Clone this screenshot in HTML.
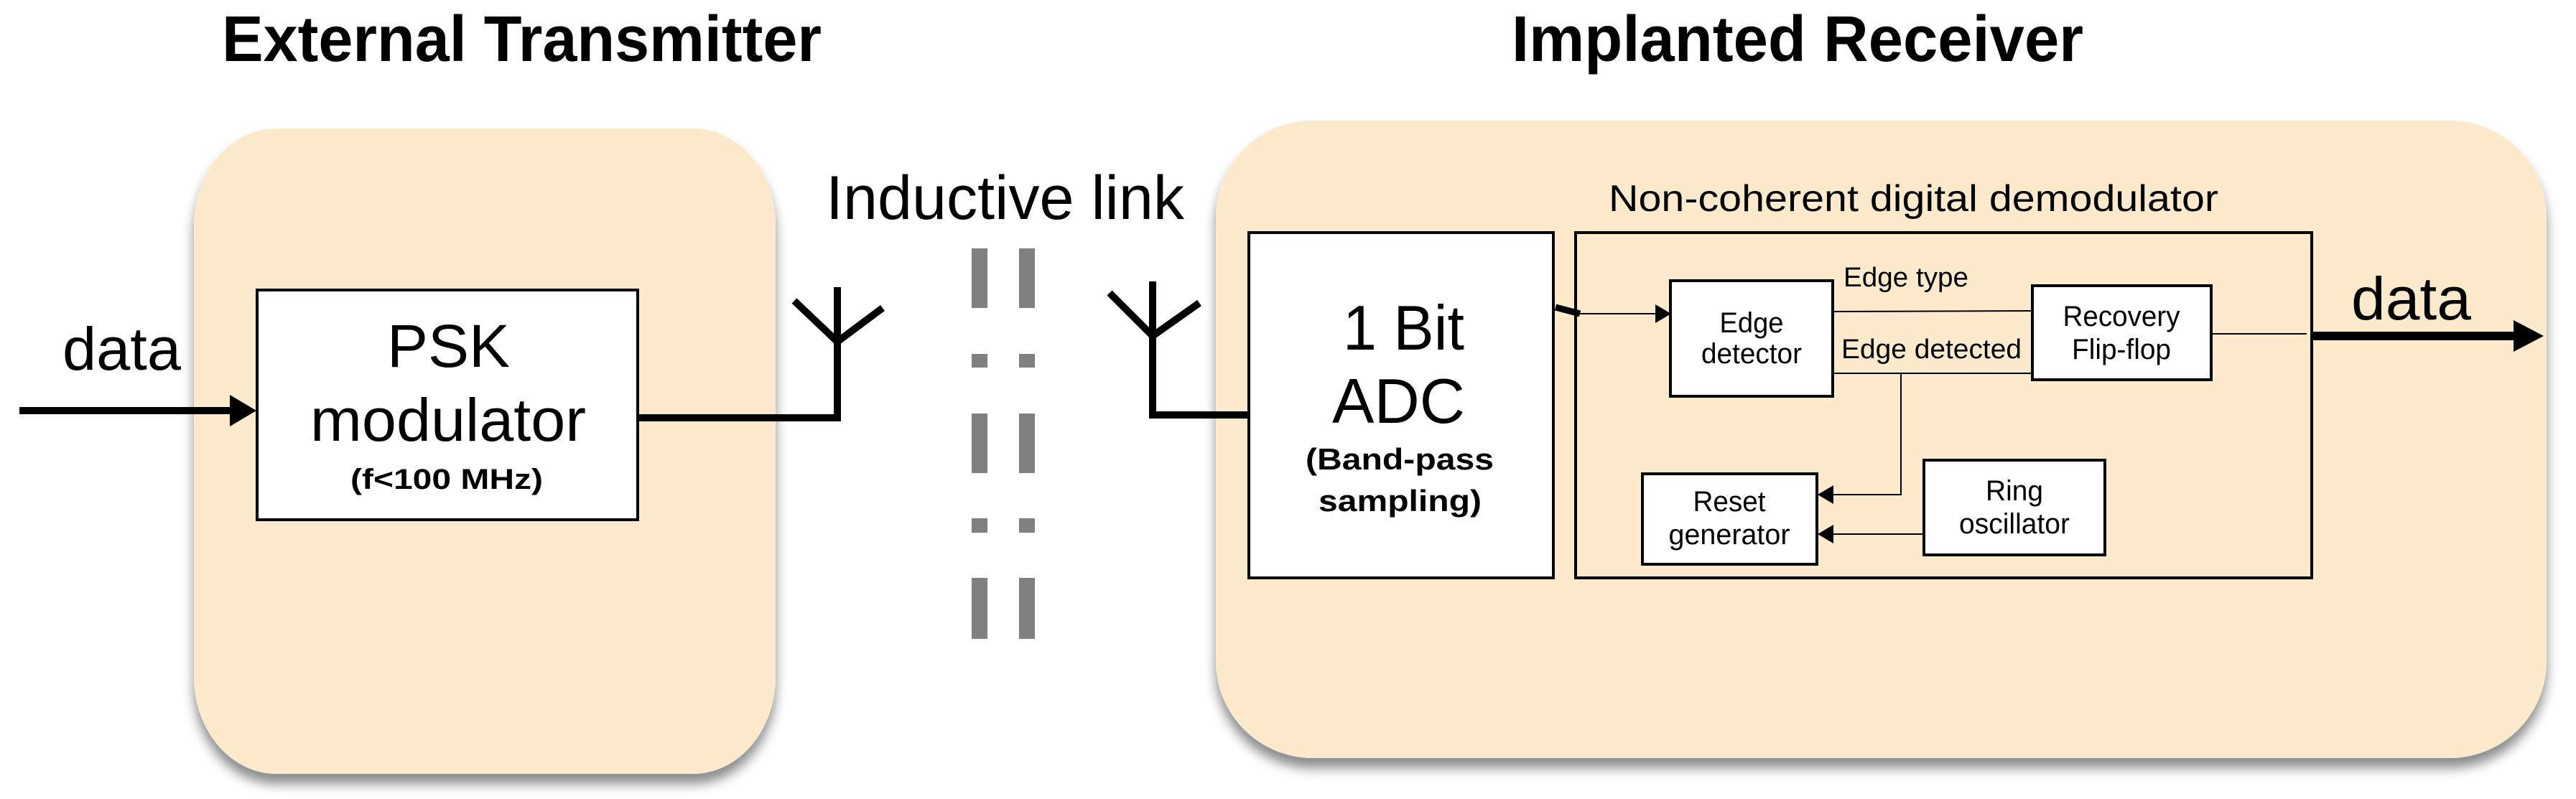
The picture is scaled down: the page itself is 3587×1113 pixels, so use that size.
<!DOCTYPE html>
<html><head><meta charset="utf-8"><style>html,body{margin:0;padding:0;background:#fff}svg{display:block}</style></head>
<body>
<svg width="3587" height="1113" viewBox="0 0 3587 1113" xmlns="http://www.w3.org/2000/svg" font-family="Liberation Sans, Arial, sans-serif">
<defs>
<filter id="sh" x="-10%" y="-10%" width="120%" height="125%">
<feDropShadow dx="0" dy="14" stdDeviation="8" flood-color="#000" flood-opacity="0.45"/>
</filter>
<marker id="ah" markerWidth="22" markerHeight="26" refX="21" refY="13" orient="auto" markerUnits="userSpaceOnUse"><path d="M0,0 L22,13 L0,26 z" fill="#000"/></marker>
</defs>

<!-- titles -->
<text x="309" y="85" font-size="90" font-weight="bold" textLength="835" lengthAdjust="spacingAndGlyphs">External Transmitter</text>
<text x="2105" y="85" font-size="90" font-weight="bold" textLength="796" lengthAdjust="spacingAndGlyphs">Implanted Receiver</text>

<!-- boxes -->
<rect x="270" y="179" width="810" height="899" rx="115" ry="135" fill="#fde9cb" filter="url(#sh)"/>
<rect x="1693" y="168" width="1853" height="888" rx="135" ry="135" fill="#fde9cb" filter="url(#sh)"/>

<!-- left input -->
<text x="87" y="515" font-size="84" textLength="165" lengthAdjust="spacingAndGlyphs">data</text>
<line x1="27" y1="572" x2="335" y2="572" stroke="#000" stroke-width="10"/>
<path d="M320,550 L357,572 L320,594 z" fill="#000"/>

<!-- PSK -->
<rect x="358" y="404" width="530" height="320" fill="#fff" stroke="#000" stroke-width="4"/>
<text x="539" y="511" font-size="84" textLength="171" lengthAdjust="spacingAndGlyphs">PSK</text>
<text x="432" y="614" font-size="84" textLength="384" lengthAdjust="spacingAndGlyphs">modulator</text>
<text x="488" y="681" font-size="40" font-weight="bold" textLength="268" lengthAdjust="spacingAndGlyphs">(f&lt;100 MHz)</text>

<!-- tx antenna -->
<polyline points="888,582 1166,582 1166,400" fill="none" stroke="#000" stroke-width="10"/>
<polyline points="1106,419 1166,476 1229,429" fill="none" stroke="#000" stroke-width="10"/>

<!-- inductive link -->
<text x="1150" y="305" font-size="86" textLength="499" lengthAdjust="spacingAndGlyphs">Inductive link</text>
<g fill="#808080">
<rect x="1353" y="346" width="22" height="83"/><rect x="1419" y="346" width="22" height="83"/>
<rect x="1353" y="493" width="22" height="19"/><rect x="1419" y="493" width="22" height="19"/>
<rect x="1353" y="576" width="22" height="83"/><rect x="1419" y="576" width="22" height="83"/>
<rect x="1353" y="722" width="22" height="20"/><rect x="1419" y="722" width="22" height="20"/>
<rect x="1353" y="805" width="22" height="85"/><rect x="1419" y="805" width="22" height="85"/>
</g>

<!-- rx antenna -->
<polyline points="1605,392 1605,578 1775,578" fill="none" stroke="#000" stroke-width="10"/>
<polyline points="1545,408 1605,468 1670,422" fill="none" stroke="#000" stroke-width="10"/>

<!-- ADC -->
<rect x="1739" y="324" width="424" height="481" fill="#fff" stroke="#000" stroke-width="4"/>
<text x="1870" y="487" font-size="88" textLength="169" lengthAdjust="spacingAndGlyphs">1 Bit</text>
<text x="1855" y="589" font-size="88" textLength="185" lengthAdjust="spacingAndGlyphs">ADC</text>
<text x="1818" y="654" font-size="42" font-weight="bold" textLength="262" lengthAdjust="spacingAndGlyphs">(Band-pass</text>
<text x="1836" y="712" font-size="42" font-weight="bold" textLength="227" lengthAdjust="spacingAndGlyphs">sampling)</text>

<!-- demod -->
<text x="2240" y="294" font-size="52" textLength="849" lengthAdjust="spacingAndGlyphs">Non-coherent digital demodulator</text>
<rect x="2194" y="324" width="1025" height="481" fill="none" stroke="#000" stroke-width="4"/>

<line x1="2166" y1="428" x2="2200" y2="437" stroke="#000" stroke-width="9"/>
<line x1="2200" y1="437" x2="2326" y2="437" stroke="#000" stroke-width="2" marker-end="url(#ah)"/>

<rect x="2326" y="391" width="226" height="161" fill="#fff" stroke="#000" stroke-width="4"/>
<text x="2439" y="463" font-size="40" text-anchor="middle" textLength="89" lengthAdjust="spacingAndGlyphs">Edge</text>
<text x="2439" y="506" font-size="40" text-anchor="middle" textLength="140" lengthAdjust="spacingAndGlyphs">detector</text>

<rect x="2830" y="398" width="249" height="131" fill="#fff" stroke="#000" stroke-width="4"/>
<text x="2954" y="454" font-size="40" text-anchor="middle" textLength="163" lengthAdjust="spacingAndGlyphs">Recovery</text>
<text x="2954" y="500" font-size="40" text-anchor="middle" textLength="138" lengthAdjust="spacingAndGlyphs">Flip-flop</text>

<line x1="2552" y1="434" x2="2830" y2="433" stroke="#000" stroke-width="2"/>
<text x="2567" y="399" font-size="38" textLength="174" lengthAdjust="spacingAndGlyphs">Edge type</text>
<line x1="2550" y1="520" x2="2830" y2="520" stroke="#000" stroke-width="2"/>
<text x="2564" y="499" font-size="38" textLength="251" lengthAdjust="spacingAndGlyphs">Edge detected</text>

<polyline points="2647,520 2647,689 2532,689" fill="none" stroke="#000" stroke-width="2" marker-end="url(#ah)"/>

<rect x="2287" y="660" width="243" height="126" fill="#fff" stroke="#000" stroke-width="4"/>
<text x="2408" y="712" font-size="40" text-anchor="middle" textLength="101" lengthAdjust="spacingAndGlyphs">Reset</text>
<text x="2408" y="758" font-size="40" text-anchor="middle" textLength="169" lengthAdjust="spacingAndGlyphs">generator</text>

<rect x="2679" y="641" width="252" height="132" fill="#fff" stroke="#000" stroke-width="4"/>
<text x="2805" y="697" font-size="40" text-anchor="middle" textLength="80" lengthAdjust="spacingAndGlyphs">Ring</text>
<text x="2805" y="743" font-size="40" text-anchor="middle" textLength="154" lengthAdjust="spacingAndGlyphs">oscillator</text>
<line x1="2679" y1="744" x2="2532" y2="744" stroke="#000" stroke-width="2" marker-end="url(#ah)"/>

<!-- output -->
<line x1="3079" y1="465" x2="3212" y2="465" stroke="#000" stroke-width="2"/>
<line x1="3219" y1="468" x2="3515" y2="468" stroke="#000" stroke-width="12"/>
<path d="M3500,446 L3542,468 L3500,490 z" fill="#000"/>
<text x="3274" y="445" font-size="84" textLength="167" lengthAdjust="spacingAndGlyphs">data</text>
</svg>
</body></html>
